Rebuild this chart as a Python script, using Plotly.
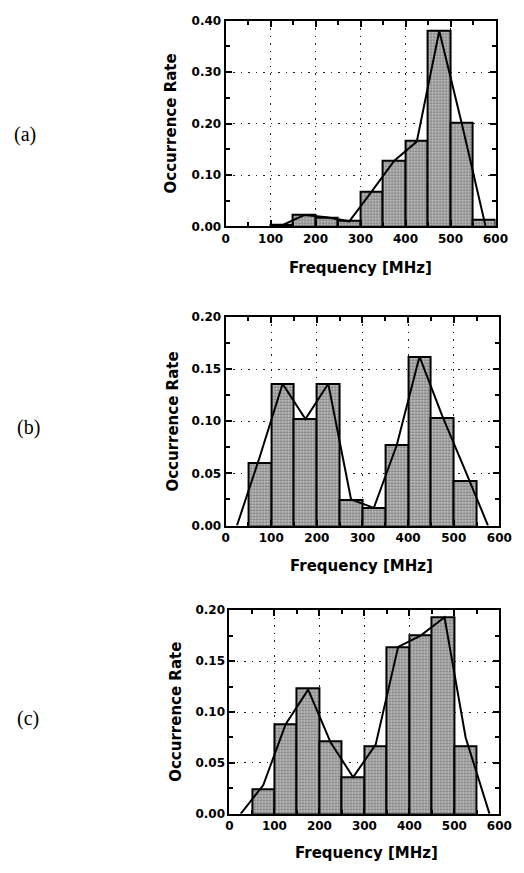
import plotly.graph_objects as go

# ---- data ----
bin_centers = [25, 75, 125, 175, 225, 275, 325, 375, 425, 475, 525, 575]
rate_a = [None, None, 0.003, 0.023, 0.016, 0.011, 0.067, 0.128, 0.166, 0.381, 0.201, 0.012]
rate_b = [None, 0.060, 0.136, 0.102, 0.136, 0.025, 0.017, 0.077, 0.162, 0.103, 0.043, None]
rate_c = [None, 0.024, 0.088, 0.123, 0.071, 0.036, 0.066, 0.164, 0.175, 0.193, 0.066, None]

line_a_x = [125, 175, 225, 275, 325, 375, 425, 475, 525, 578]
line_a_y = [0.002, 0.022, 0.018, 0.010, 0.068, 0.128, 0.165, 0.380, 0.200, 0.0]
line_b_x = [25, 75, 125, 175, 225, 275, 325, 375, 425, 475, 525, 575]
line_b_y = [0.0, 0.066, 0.136, 0.102, 0.136, 0.025, 0.017, 0.077, 0.162, 0.105, 0.053, 0.0]
line_c_x = [25, 75, 125, 175, 225, 275, 325, 375, 425, 478, 525, 578]
line_c_y = [0.0, 0.028, 0.088, 0.122, 0.070, 0.036, 0.068, 0.164, 0.175, 0.193, 0.075, 0.0]

x_ticks = [0, 100, 200, 300, 400, 500, 600]
panel_labels = ["(a)", "(b)", "(c)"]
x_title = "Frequency [MHz]"
y_title = "Occurrence Rate"

W, H = 524, 873
tickfont = dict(family="DejaVu Sans", size=12, color="black", weight="bold")
titlefont = dict(family="DejaVu Sans", size=15, color="black", weight="bold")

fig = go.Figure()

panels = [
    dict(rate=rate_a, lx=line_a_x, ly=line_a_y, xr=(229, 508), yr=(14, 223), ymax=0.40, dt=0.10, mdt=0.05,
         lab=(22, 130), yt=(173, 118), xt=(368, 265)),
    dict(rate=rate_b, lx=line_b_x, ly=line_b_y, xr=(229, 512), yr=(315, 527), ymax=0.20, dt=0.05, mdt=0.025,
         lab=(25, 427), yt=(175, 421), xt=(370, 568)),
    dict(rate=rate_c, lx=line_c_x, ly=line_c_y, xr=(233, 512), yr=(613, 820), ymax=0.20, dt=0.05, mdt=0.025,
         lab=(25, 723), yt=(177, 716), xt=(375, 860)),
]

layout = dict(width=W, height=H, margin=dict(l=0, r=0, t=0, b=0),
              paper_bgcolor="white", plot_bgcolor="white", showlegend=False,
              bargap=0, annotations=[])

for i, p in enumerate(panels):
    n = "" if i == 0 else str(i + 1)
    xa, ya = "x" + n, "y" + n
    fig.add_trace(go.Bar(
        x=bin_centers, y=p["rate"], width=50, xaxis=xa, yaxis=ya,
        marker=dict(color="#c4c4c4", line=dict(color="black", width=2),
                    pattern=dict(shape=".", fgcolor="#2a2a2a", size=3, solidity=0.45)),
        hoverinfo="skip"))
    fig.add_trace(go.Scatter(
        x=p["lx"], y=p["ly"], mode="lines", xaxis=xa, yaxis=ya,
        line=dict(color="black", width=2), hoverinfo="skip"))
    common = dict(ticks="inside", ticklen=6, tickwidth=2, tickcolor="black",
                  showline=True, linewidth=2, linecolor="black", mirror="ticks",
                  showgrid=True, gridcolor="#222222", griddash="1.5px,6px", gridwidth=1.2,
                  zeroline=False, tickfont=tickfont, fixedrange=True)
    layout["xaxis" + n] = dict(
        domain=[p["xr"][0] / W, p["xr"][1] / W], anchor=ya, range=[0, 600],
        tickmode="array", tickvals=x_ticks, ticktext=[str(v) for v in x_ticks],
        minor=dict(dtick=50, tick0=0, ticks="inside", ticklen=4, tickwidth=1.5,
                   tickcolor="black", showgrid=False),
        **common)
    layout["yaxis" + n] = dict(
        domain=[1 - p["yr"][1] / H, 1 - p["yr"][0] / H], anchor=xa,
        range=[0, p["ymax"]], dtick=p["dt"], tick0=0, tickformat=".2f",
        minor=dict(dtick=p["mdt"], tick0=0, ticks="inside", ticklen=4, tickwidth=1.5,
                   tickcolor="black", showgrid=False),
        **common)
    layout["annotations"] += [
        dict(text=panel_labels[i], xref="paper", yref="paper",
             x=p["lab"][0] / W, y=1 - p["lab"][1] / H, xanchor="center", yanchor="middle",
             showarrow=False, font=dict(family="Liberation Serif", size=20, color="black")),
        dict(text=y_title, xref="paper", yref="paper", textangle=-90,
             x=p["yt"][0] / W, y=1 - p["yt"][1] / H, xanchor="center", yanchor="middle",
             showarrow=False, font=titlefont),
        dict(text=x_title, xref="paper", yref="paper",
             x=p["xt"][0] / W, y=1 - p["xt"][1] / H, xanchor="center", yanchor="middle",
             showarrow=False, font=titlefont),
    ]

fig.update_layout(**layout)
fig.write_html("out.html")
